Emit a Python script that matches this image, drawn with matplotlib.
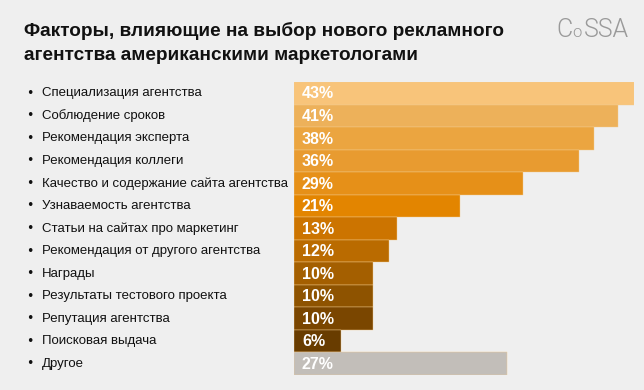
import matplotlib.pyplot as plt
from matplotlib import font_manager
from matplotlib.font_manager import FontProperties
from matplotlib.transforms import blended_transform_factory

LABELS = [
    "Специализация агентства",
    "Соблюдение сроков",
    "Рекомендация эксперта",
    "Рекомендация коллеги",
    "Качество и содержание сайта агентства",
    "Узнаваемость агентства",
    "Статьи на сайтах про маркетинг",
    "Рекомендация от другого агентства",
    "Награды",
    "Результаты тестового проекта",
    "Репутация агентства",
    "Поисковая выдача",
    "Другое",
]
VALUES = [43, 41, 38, 36, 29, 21, 13, 12, 10, 10, 10, 6, 27]
COLORS = [
    "#F8C47A", "#EDB15A", "#EBA540", "#E89B30", "#E69018", "#E38500",
    "#CC7400", "#BA6B00", "#A45F00", "#8E5300", "#7A4600", "#683C00",
    "#C2BEB9",
]
BG = "#EFEFEF"


def liberation(size, weight):
    # Liberation Sans at the given weight, skipping the Narrow cut
    w = 700 if weight == "bold" else 400
    for f in font_manager.fontManager.ttflist:
        if (f.name == "Liberation Sans" and f.weight == w and f.style == "normal"
                and "Narrow" not in f.fname):
            return FontProperties(fname=f.fname, size=size)
    return FontProperties(family="DejaVu Sans", weight=weight, size=size)


def light(size):
    for name in ("Roboto-Light.ttf", "Lato-Light.ttf"):
        for f in font_manager.fontManager.ttflist:
            if f.fname.endswith("/" + name):
                return FontProperties(fname=f.fname, size=size)
    return FontProperties(family="DejaVu Sans", size=size)


W, H = 644, 390
fig = plt.figure(figsize=(W / 100, H / 100), dpi=100, facecolor=BG)

# axes placed in pixel terms: bars run from x=294 (0%) to x=634 (43%)
x0, x1, ytop, ybot = 294, 634, 82, 375
ax = fig.add_axes([x0 / W, 1 - ybot / H, (x1 - x0) / W, (ybot - ytop) / H])
ax.set_facecolor(BG)
ax.set_xlim(0, 43)
ax.set_ylim(len(VALUES) - 0.5, -0.5)
ax.axis("off")

ys = range(len(VALUES))
ax.barh(ys, VALUES, height=1.0, color=COLORS, edgecolor="#F3CC90", linewidth=0.3)

pct_font = liberation(11.5, "bold")
for y, v in zip(ys, VALUES):
    ax.text(1.0, y + 0.03, f"{v}%", color="white", fontproperties=pct_font,
            va="center", ha="left")

lab_font = liberation(9.5, "normal")
tr = blended_transform_factory(fig.transFigure, ax.transData)
for y, lab in zip(ys, LABELS):
    ax.text(30 / W, y, "•", transform=tr, fontsize=9, va="center", ha="center",
            color="#111111")
    ax.text(42 / W, y, lab, transform=tr, fontproperties=lab_font,
            va="center", ha="left", color="#111111")

title_font = liberation(13.7, "bold")
fig.text(24 / W, 1 - 31 / H, "Факторы, влияющие на выбор нового рекламного",
         fontproperties=title_font, va="center", ha="left", color="#111111")
fig.text(24 / W, 1 - 56 / H, "агентства американскими маркетологами",
         fontproperties=title_font, va="center", ha="left", color="#111111")

# logo: C, small o, SSA in a thin grey face
base = 1 - 37 / H
fig.text(556 / W, base, "C", fontproperties=light(18), color="#9A9A9A", va="baseline")
fig.text(572 / W, base, "o", fontproperties=light(12), color="#9A9A9A", va="baseline")
fig.text(584 / W, base, "SSA", fontproperties=light(18), color="#9A9A9A", va="baseline")

fig.savefig("out.png", dpi=100, facecolor=BG)
